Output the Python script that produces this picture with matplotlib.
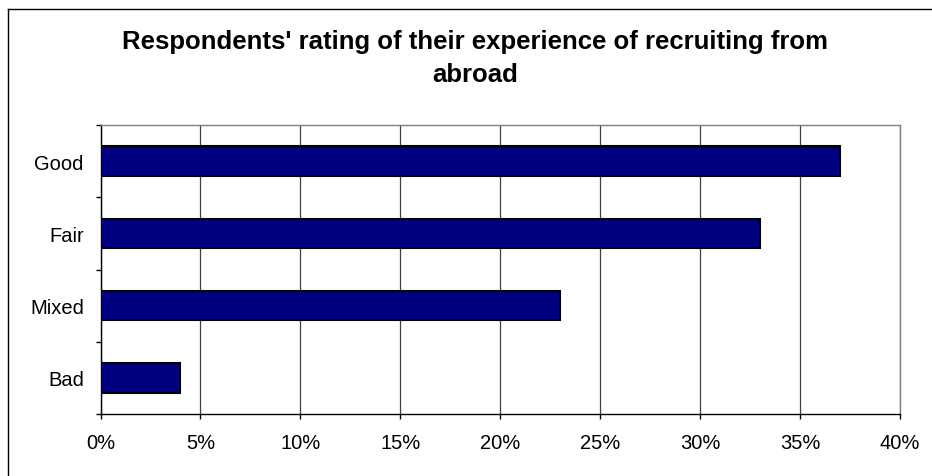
import matplotlib.pyplot as plt
from matplotlib.lines import Line2D
from matplotlib.ticker import MultipleLocator, FuncFormatter

plt.rcParams['font.family'] = ['Liberation Sans', 'DejaVu Sans']

categories = ['Good', 'Fair', 'Mixed', 'Bad']
shares = [37, 33, 23, 4]
title_lines = ["Respondents' rating of their experience of recruiting from", "abroad"]

fig = plt.figure(figsize=(9.32, 4.77), dpi=100)
W, H = 932, 477

# chart frame: left and top edges
fig.lines.append(Line2D([7.5 / W, 7.5 / W], [0, 1 - 9.5 / H], transform=fig.transFigure,
                        color='black', linewidth=1.0))
fig.lines.append(Line2D([7.5 / W, 1], [1 - 9.5 / H, 1 - 9.5 / H], transform=fig.transFigure,
                        color='black', linewidth=1.0))

ax = fig.add_axes([100.5 / W, 1 - 415 / H, (900 - 100.5) / W, (415 - 126) / H])

pos = list(range(len(categories)))[::-1]
ax.barh(pos, shares, height=0.41, color='#000080', edgecolor='black', linewidth=1.5, zorder=3)

ax.set_xlim(0, 40)
ax.set_ylim(-0.5, len(categories) - 0.5)
ax.xaxis.set_major_locator(MultipleLocator(5))
ax.xaxis.set_major_formatter(FuncFormatter(lambda v, p: f'{v:.0f}%'))
ax.grid(axis='x', color='#404040', linewidth=0.9, zorder=0)

ax.set_yticks(pos)
ax.set_yticklabels(categories)
ax.set_yticks([i - 0.5 for i in range(len(categories) + 1)], minor=True)
ax.tick_params(axis='y', which='major', length=0, pad=12, labelsize=14.5)
ax.tick_params(axis='y', which='minor', length=3.6, width=1, direction='out')
ax.tick_params(axis='x', length=3.6, width=1, direction='out', pad=10, labelsize=14.5)

for side in ('top', 'right'):
    ax.spines[side].set_color('#808080')
    ax.spines[side].set_linewidth(1)
for side in ('left', 'bottom'):
    ax.spines[side].set_color('black')
    ax.spines[side].set_linewidth(1)

for line, base in zip(title_lines, (49, 82)):
    fig.text(475.5 / W, 1 - base / H, line, ha='center', va='baseline',
             fontsize=18.5, fontweight='bold')

fig.savefig('out.png', dpi=100)
